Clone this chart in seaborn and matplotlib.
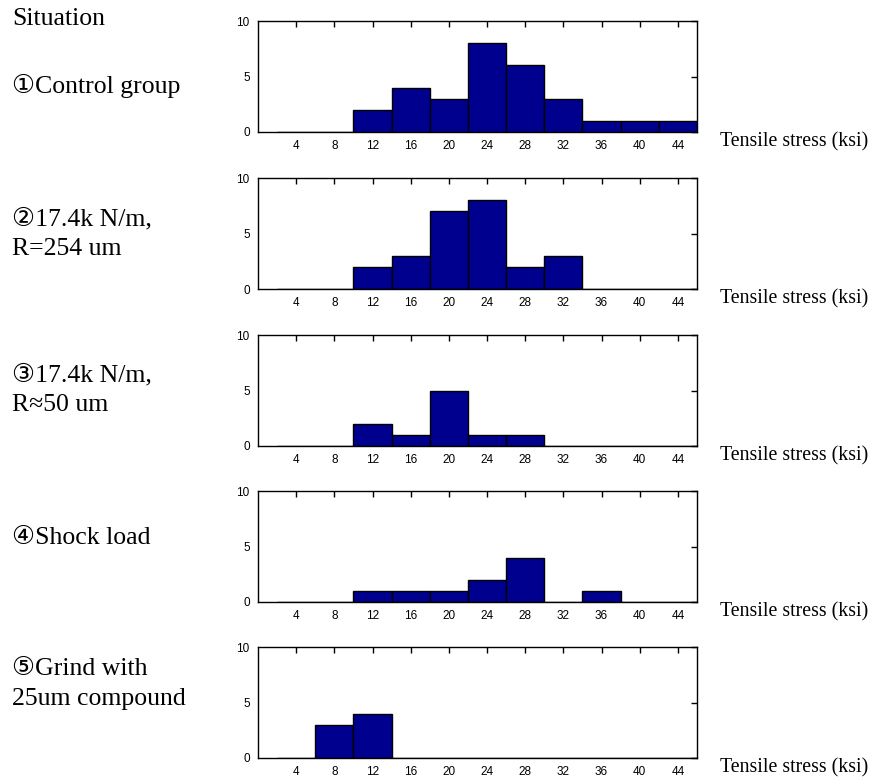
import numpy as np
import pandas as pd
import matplotlib
matplotlib.use("Agg")
import matplotlib.pyplot as plt
import seaborn as sns

sns.set_style("white")
plt.rcParams['font.family'] = ['Liberation Sans', 'DejaVu Sans']
plt.rcParams['text.color'] = 'black'
plt.rcParams['xtick.color'] = 'black'
plt.rcParams['ytick.color'] = 'black'

# bin centers (ksi) and counts per situation
centers = [4, 8, 12, 16, 20, 24, 28, 32, 36, 40, 44]
control = [0, 0, 2, 4, 3, 8, 6, 3, 1, 1, 1]
n17_r254 = [0, 0, 2, 3, 7, 8, 2, 3, 0, 0, 0]
n17_r50 = [0, 0, 2, 1, 5, 1, 1, 0, 0, 0, 0]
shock = [0, 0, 1, 1, 1, 2, 4, 0, 1, 0, 0]
grind = [0, 3, 4, 0, 0, 0, 0, 0, 0, 0, 0]

series = [control, n17_r254, n17_r50, shock, grind]
labels = ["\u2460Control group",
          "\u246117.4k N/m,\nR=254 um",
          "\u246217.4k N/m,\nR\u224850 um",
          "\u2463Shock load",
          "\u2464Grind with\n25um compound"]
xlabel = "Tensile stress (ksi)"

serif = ['Liberation Serif', 'DejaVu Sans']
bar_color = "#00008F"

fig = plt.figure(figsize=(8.71, 7.8), dpi=100)
W, H = 871, 780
tops = [21, 178, 335, 491, 647]
label_y = [86, 234, 390, 538, 684]

fig.text(12 / W, 1 - 19 / H, "Situation", family=serif, fontsize=18.5,
         va="center", ha="left")

for i, counts in enumerate(series):
    top = tops[i]
    ax = fig.add_axes([258 / W, 1 - (top + 111) / H, 439 / W, 111 / H])
    df = pd.DataFrame({"stress": centers, "count": counts})
    sns.histplot(data=df, x="stress", weights="count", binwidth=4,
                 binrange=(2, 46), color=bar_color, edgecolor="black",
                 linewidth=1, alpha=1, ax=ax)
    ax.set_xlim(0, 46)
    ax.set_ylim(0, 10)
    ax.set_xticks(centers)
    ax.set_yticks([0, 5, 10])
    ax.set_xlabel("")
    ax.set_ylabel("")
    ax.tick_params(direction="in", top=True, right=True, length=4,
                   width=1, labelsize=8.5, pad=6)
    for s in ax.spines.values():
        s.set_linewidth(1)
        s.set_color("black")
    fig.text(720 / W, 1 - (top + 121) / H, xlabel, family=serif,
             fontsize=14.3, va="center", ha="left")
    fig.text(12 / W, 1 - label_y[i] / H, labels[i], family=serif,
             fontsize=18.5, va="center", ha="left", linespacing=1.42)

fig.savefig("out.png", dpi=100)
